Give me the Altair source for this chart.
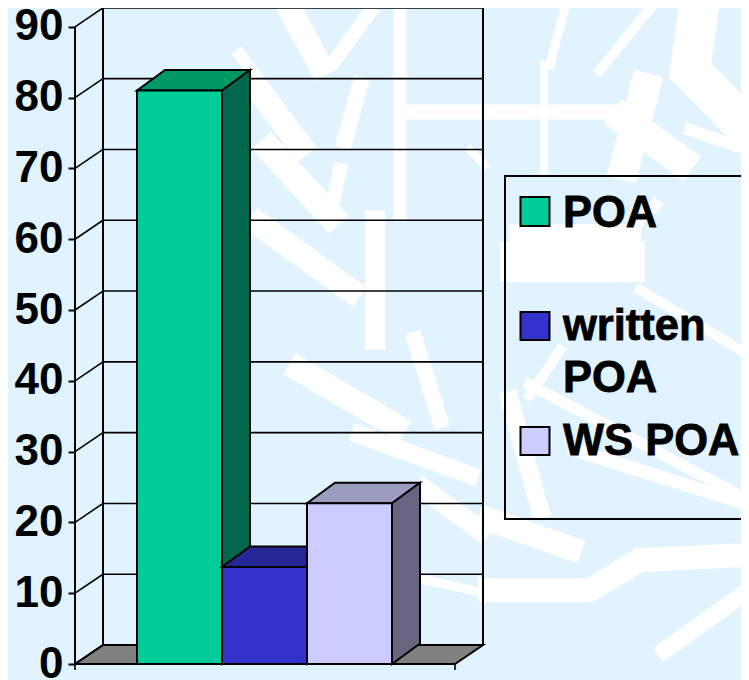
import altair as alt
import pandas as pd

# ---- chart values
series = ["POA", "written POA", "WS POA"]
values = [81, 13.7, 22.7]
front_colors = ["#00CC99", "#3333CC", "#CCCCFF"]
top_colors = ["#009966", "#262699", "#9C9CBE"]
side_colors = ["#00664C", "#1A1A66", "#666680"]
y_ticks = [0, 10, 20, 30, 40, 50, 60, 70, 80, 90]

FONT = "Liberation Sans"
BG = "#E1F3FF"

# ---- scale set-up: one x unit is one bar width, y is the value axis
DX = 0.3294      # depth of the 3D box, x units
DY = 2.68        # depth of the walls, value units
BAR_DY = 2.9     # depth of the bars, value units
X_LEFT, X_RIGHT = -0.7294, 3.741
X_DOM = [-0.7294, 7.106]
Y_DOM = [-2.26, 92.66]


def ux(px):
    return (px - 137) / 85


def uy(py):
    return (664 - py) / 7.08


Y_AXIS = alt.Axis(
    values=y_ticks, title=None, grid=False, domain=False,
    tickColor="black", tickSize=7, tickWidth=2,
    labelFont=FONT, labelFontWeight="bold", labelFontSize=44, labelColor="black",
    labelPadding=5, labelOverlap=False, labelBaseline="middle",
)
X = lambda f="x": alt.X(f, type="quantitative", axis=None, scale=alt.Scale(domain=X_DOM, nice=False, zero=False, padding=0))
Y = lambda f="y": alt.Y(f, type="quantitative", axis=Y_AXIS, scale=alt.Scale(domain=Y_DOM, nice=False, zero=False, padding=0))
X2 = lambda f="x2": alt.X2(f)
Y2 = lambda f="y2": alt.Y2(f)


def seg(points, **mark):
    df = pd.DataFrame([{"x": a, "y": b, "i": i} for i, (a, b) in enumerate(points)])
    return alt.Chart(df).mark_line(**mark).encode(X(), Y(), order=alt.Order("i:Q"))


def flat_face(x0, x1, v, fill, d):
    """Top or floor face of the box, as a band between two edges."""
    df = pd.DataFrame({
        "x": [x0, x0 + DX, x1, x1 + DX],
        "y": [v, v + d, v + d, v + d],
        "y2": [v, v, v, v + d],
    })
    return alt.Chart(df).mark_area(fill=fill, stroke="black", strokeWidth=2).encode(X(), Y(), Y2())


def side_face(x, v, fill, d):
    df = pd.DataFrame({"x": [x, x + DX], "y": [v, v + d], "y2": [0, d]})
    return alt.Chart(df).mark_area(fill=fill, stroke="black", strokeWidth=2).encode(X(), Y(), Y2())


def front_face(x0, x1, v, fill):
    df = pd.DataFrame({"x": [x0, x1], "y": [v, v], "y2": [0, 0]})
    return alt.Chart(df).mark_area(fill=fill, stroke="black", strokeWidth=2).encode(X(), Y(), Y2())


layers = []

# ---- pale watermark behind the chart (page positions, stroke width)
watermark = [
    ([(285, 0), (320, 65)], 24), ([(255, 85), (300, 145)], 24), ([(270, 150), (330, 215)], 26),
    ([(260, 225), (350, 290)], 24), ([(300, 370), (395, 425)], 24), ([(360, 435), (470, 475)], 18),
    ([(370, 12), (335, 60)], 14), ([(360, 85), (345, 140)], 16), ([(340, 170), (330, 215)], 14),
    ([(400, 15), (400, 215)], 13), ([(375, 220), (375, 340)], 20), ([(415, 340), (440, 420)], 16),
    ([(405, 112), (610, 112)], 15), ([(544, 65), (544, 170)], 8), ([(565, 8), (550, 65)], 9),
    ([(645, 88), (625, 165)], 30), ([(625, 120), (680, 160)], 30), ([(700, 0), (690, 70), (749, 130)], 40),
    ([(690, 130), (749, 150)], 12), ([(600, 70), (650, 8)], 10),
    ([(520, 235), (630, 235)], 22), ([(520, 262), (625, 262)], 40), ([(600, 262), (655, 205)], 12),
    ([(640, 290), (749, 355)], 10), ([(510, 400), (540, 510)], 18), ([(530, 395), (560, 350)], 10),
    ([(530, 385), (749, 500)], 11), ([(575, 450), (749, 505)], 13), ([(490, 590), (590, 590), (640, 560), (745, 555)], 24),
    ([(665, 650), (749, 590)], 17), ([(425, 490), (480, 530)], 20), ([(425, 580), (480, 592)], 9),
    ([(490, 520), (570, 548)], 24), ([(470, 150), (485, 165)], 8), ([(240, 55), (255, 75)], 12),
]
for pts, w in watermark:
    layers.append(seg([(ux(a), uy(b)) for a, b in pts], stroke="white", strokeWidth=w, strokeCap="square", strokeJoin="miter"))

# ---- floor
layers.append(flat_face(X_LEFT, X_RIGHT, 0, "#808080", DY))

# ---- back wall: gridlines, side diagonals, verticals
for v in y_ticks:
    w = 2 if v in (0, 90) else 1.6
    layers.append(seg([(X_LEFT + DX, v + DY), (X_RIGHT + DX, v + DY)], stroke="black", strokeWidth=w))
    layers.append(seg([(X_LEFT, v), (X_LEFT + DX, v + DY)], stroke="black", strokeWidth=1.6))
for xv in (X_LEFT + DX, X_RIGHT + DX):
    layers.append(seg([(xv, DY), (xv, 90 + DY)], stroke="black", strokeWidth=2))

# ---- front axis line and x ticks
layers.append(seg([(X_LEFT, 0), (X_LEFT, 90)], stroke="black", strokeWidth=2))
for xv in (X_LEFT, X_RIGHT):
    layers.append(seg([(xv, 0), (xv, -0.85)], stroke="black", strokeWidth=1.6))

# ---- bars, painted back to front
for i, v in enumerate(values):
    layers.append(flat_face(i, i + 1, v, top_colors[i], BAR_DY))
    layers.append(side_face(i + 1, v, side_colors[i], BAR_DY))
    layers.append(front_face(i, i + 1, v, front_colors[i]))

# ---- legend
frame = pd.DataFrame({"x": [ux(505)], "x2": [ux(770)], "y": [uy(176)], "y2": [uy(519)]})
layers.append(alt.Chart(frame).mark_rect(fillOpacity=0, stroke="black", strokeWidth=2).encode(X(), X2(), Y(), Y2()))

swatch_tops = [197, 312, 427]
swatch_bottoms = [226, 340, 455]
for i in range(3):
    sw = pd.DataFrame({"x": [ux(520.5)], "x2": [ux(549.5)], "y": [uy(swatch_tops[i])], "y2": [uy(swatch_bottoms[i])]})
    layers.append(alt.Chart(sw).mark_rect(fill=front_colors[i], stroke="black", strokeWidth=2).encode(X(), X2(), Y(), Y2()))

legend_lines = ["POA", "written", "POA", "WS POA"]
legend_baselines = [227, 340, 392, 455]
legend_df = pd.DataFrame({"x": [ux(563)] * 4, "y": [uy(b) for b in legend_baselines], "t": legend_lines})
layers.append(
    alt.Chart(legend_df)
    .mark_text(font=FONT, fontWeight="bold", fontSize=43.5, align="left", baseline="alphabetic",
               color="black", stroke="black", strokeWidth=0.8)
    .encode(X(), Y(), text="t:N")
)

chart = (
    alt.layer(*layers)
    .properties(
        width=666, height=672, background=BG,
        padding={"left": 67, "top": 0, "right": 0, "bottom": 0},
        autosize=alt.AutoSizeParams(type="none"),
    )
    .configure_view(stroke=None)
)

chart.save("out.html", embed_options={"renderer": "svg", "actions": False})
